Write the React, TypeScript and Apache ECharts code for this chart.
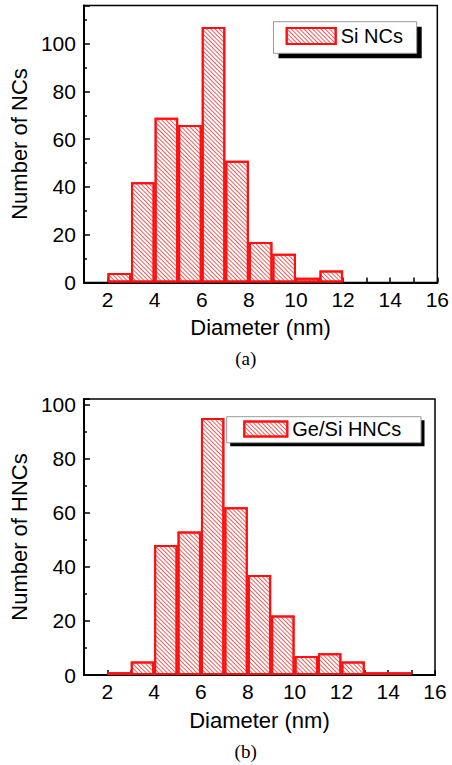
import React, { useEffect, useRef } from "react";
import * as echarts from "echarts";

// Histogram bins (nm): 1-2, 2-3, ..., 15-16
const bins = ["1-2", "2-3", "3-4", "4-5", "5-6", "6-7", "7-8", "8-9", "9-10", "10-11", "11-12", "12-13", "13-14", "14-15", "15-16"];
const siNCs = [0, 4, 42, 69, 66, 107, 51, 17, 12, 2, 5, 0, 0, 0, 0];
const geSiHNCs = [0, 1, 5, 48, 53, 95, 62, 37, 22, 7, 8, 5, 1, 1, 0];
const seriesNames = ["Si NCs", "Ge/Si HNCs"];
const yTitles = ["Number of NCs", "Number of HNCs"];
const xTitle = "Diameter (nm)";
const panelLabels = ["(a)", "(b)"];
const xMin = 1;
const xMax = 16;
const yMaxA = 116;
const yMaxB = 102;

const SANS = "'Liberation Sans', Arial, sans-serif";
const SERIF = "'Liberation Serif', 'Times New Roman', serif";
const RED = "#ff1010";

const decal = {
  symbol: "rect",
  symbolSize: 1,
  color: "rgba(225,40,40,0.75)",
  dashArrayX: [1, 0],
  dashArrayY: [1, 2],
  rotation: Math.PI / 4,
};

function valueXAxis(gridIndex: number) {
  return {
    type: "value",
    gridIndex,
    min: xMin,
    max: xMax,
    interval: 1,
    axisLine: { show: true, lineStyle: { color: "#000", width: 2 } },
    axisTick: { show: true, inside: true, length: 5, lineStyle: { color: "#000", width: 1.5 } },
    axisLabel: {
      fontSize: 21,
      fontFamily: SANS,
      color: "#000",
      margin: 6,
      formatter: (v: number) => (v % 2 === 0 ? String(v) : ""),
    },
    splitLine: { show: false },
    name: xTitle,
    nameLocation: "middle",
    nameGap: 34,
    nameTextStyle: { fontSize: 22, fontFamily: SANS, color: "#000" },
  };
}

function catXAxis(gridIndex: number) {
  return {
    type: "category",
    gridIndex,
    data: bins,
    boundaryGap: true,
    show: false,
  };
}

function yAxis(gridIndex: number, max: number, title: string, nameGap: number) {
  return {
    type: "value",
    gridIndex,
    min: 0,
    max,
    interval: 20,
    axisLine: { show: true, lineStyle: { color: "#000", width: 2 } },
    axisTick: { show: true, inside: true, length: 6, lineStyle: { color: "#000", width: 1.5 } },
    minorTick: { show: true, splitNumber: 2, length: 3, lineStyle: { color: "#000", width: 1.5 } },
    axisLabel: {
      fontSize: 21,
      fontFamily: SANS,
      color: "#000",
      margin: 8,
      formatter: (v: number) => (v % 20 === 0 ? String(v) : ""),
    },
    splitLine: { show: false },
    minorSplitLine: { show: false },
    name: title,
    nameLocation: "middle",
    nameGap,
    nameTextStyle: { fontSize: 22, fontFamily: SANS, color: "#000" },
  };
}

function barSeries(name: string, values: number[], xAxisIndex: number, yAxisIndex: number) {
  return {
    type: "bar",
    name,
    xAxisIndex,
    yAxisIndex,
    barCategoryGap: "0%",
    data: values.map((v) => (v === 0 ? "-" : v)),
    itemStyle: { color: "#fff", borderColor: RED, borderWidth: 2, decal },
  };
}

function legendBox(x: number, y: number, w: number, h: number, off: number) {
  return [
    { type: "rect", z: 3, shape: { x: x + off, y: y + off, width: w, height: h }, style: { fill: "#000" } },
    { type: "rect", z: 3, shape: { x, y, width: w, height: h }, style: { fill: "#fff", stroke: "#999", lineWidth: 1 } },
  ];
}

export default function App() {
  const ref = useRef<HTMLDivElement>(null);
  useEffect(() => {
    if (!ref.current) return;
    const chart = echarts.init(ref.current, null, { renderer: "svg" });
    chart.setOption({
      animation: false,
      backgroundColor: "#fff",
      grid: [
        { left: 83, top: 5.5, width: 358, height: 277, show: true, borderColor: "#000", borderWidth: 1.5, backgroundColor: "transparent" },
        { left: 77, top: 399, width: 358, height: 276, show: true, borderColor: "#000", borderWidth: 1.5, backgroundColor: "transparent" },
      ],
      xAxis: [valueXAxis(0), catXAxis(0), valueXAxis(1), catXAxis(1)],
      yAxis: [yAxis(0, yMaxA, yTitles[0], 47), yAxis(1, yMaxB, yTitles[1], 51)],
      legend: [
        {
          data: [seriesNames[0]],
          left: 285.7,
          top: 26,
          padding: 0,
          icon: "rect",
          itemWidth: 49,
          itemHeight: 16,
          textStyle: { fontSize: 20, fontFamily: SANS, color: "#000" },
          z: 5,
        },
        {
          data: [seriesNames[1]],
          left: 243.3,
          top: 419,
          padding: 0,
          icon: "rect",
          itemWidth: 43,
          itemHeight: 15,
          textStyle: { fontSize: 20, fontFamily: SANS, color: "#000" },
          z: 5,
        },
      ],
      graphic: [
        ...legendBox(273.5, 21.7, 143.2, 31.6, 5),
        ...legendBox(226.7, 416.7, 194.3, 26, 3.5),
        {
          type: "text",
          z: 3,
          x: 245.7,
          y: 358,
          style: { text: panelLabels[0], font: `19px ${SERIF}`, fill: "#000", textAlign: "center", textVerticalAlign: "middle" },
        },
        {
          type: "text",
          z: 3,
          x: 245.7,
          y: 751.7,
          style: { text: panelLabels[1], font: `19px ${SERIF}`, fill: "#000", textAlign: "center", textVerticalAlign: "middle" },
        },
      ],
      series: [barSeries(seriesNames[0], siNCs, 1, 0), barSeries(seriesNames[1], geSiHNCs, 3, 1)],
    });
    return () => chart.dispose();
  }, []);
  return <div ref={ref} style={{ position: "absolute", left: 0, top: 0, width: 452, height: 765 }} />;
}
